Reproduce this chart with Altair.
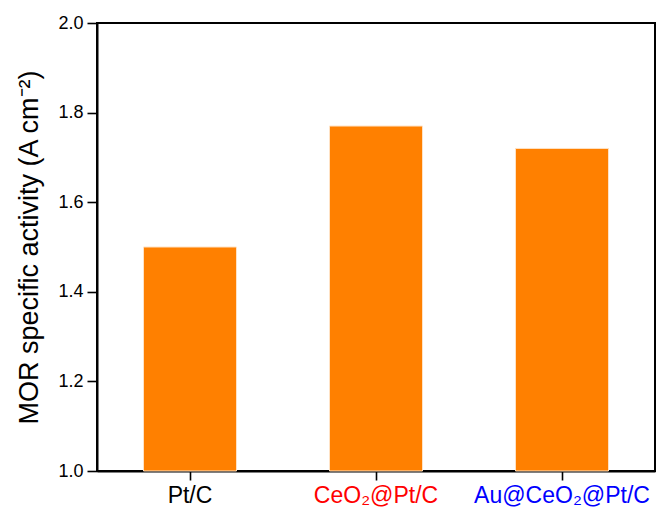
import altair as alt
import pandas as pd

categories = ["Pt/C", "CeO₂@Pt/C", "Au@CeO₂@Pt/C"]
activity = [1.50, 1.77, 1.72]
label_colors = ["#000000", "#FF0000", "#0000FF"]
y_ticks = [1.0, 1.2, 1.4, 1.6, 1.8, 2.0]

df = pd.DataFrame({"cat": categories, "val": activity, "color": label_colors})

W, H = 558, 448
FONT = "Liberation Sans"

x_enc = alt.X(
    "cat:N", sort=categories,
    scale=alt.Scale(paddingInner=0.5, paddingOuter=0.25),
    axis=alt.Axis(labels=False, title=None, tickSize=9, tickColor="black",
                  tickWidth=1.6, domainColor="black", domainWidth=2),
)

bars = alt.Chart(df).mark_bar(color="#FF8000", stroke="#FFE2C4", strokeWidth=1).encode(
    x=x_enc,
    y=alt.Y("val:Q", scale=alt.Scale(domain=[1.0, 2.0], zero=False),
            axis=alt.Axis(values=y_ticks, format=".1f", tickSize=10, tickColor="black",
                          tickWidth=1.6, domainColor="black", domainWidth=2,
                          labelFontSize=18, labelColor="black", labelPadding=4,
                          title="MOR specific activity (A cm⁻²)", titleFontSize=27,
                          titleFontWeight="normal", titleColor="black", titlePadding=14)),
    y2=alt.datum(1.0),
)

labels = alt.Chart(df).mark_text(fontSize=23, font=FONT, baseline="alphabetic").encode(
    x=alt.X("cat:N", sort=categories),
    y=alt.value(H + 32),
    text="cat:N",
    color=alt.Color("color:N", scale=None),
)

chart = alt.layer(bars, labels).properties(
    width=W, height=H,
    autosize=alt.AutoSizeParams(type="none"),
    padding={"left": 97, "top": 23, "right": 5, "bottom": 45},
).configure_view(stroke="black", strokeWidth=2).configure_axis(
    grid=False, labelFont=FONT, titleFont=FONT
)

chart.save("out.html", embed_options={"renderer": "svg", "actions": False})
